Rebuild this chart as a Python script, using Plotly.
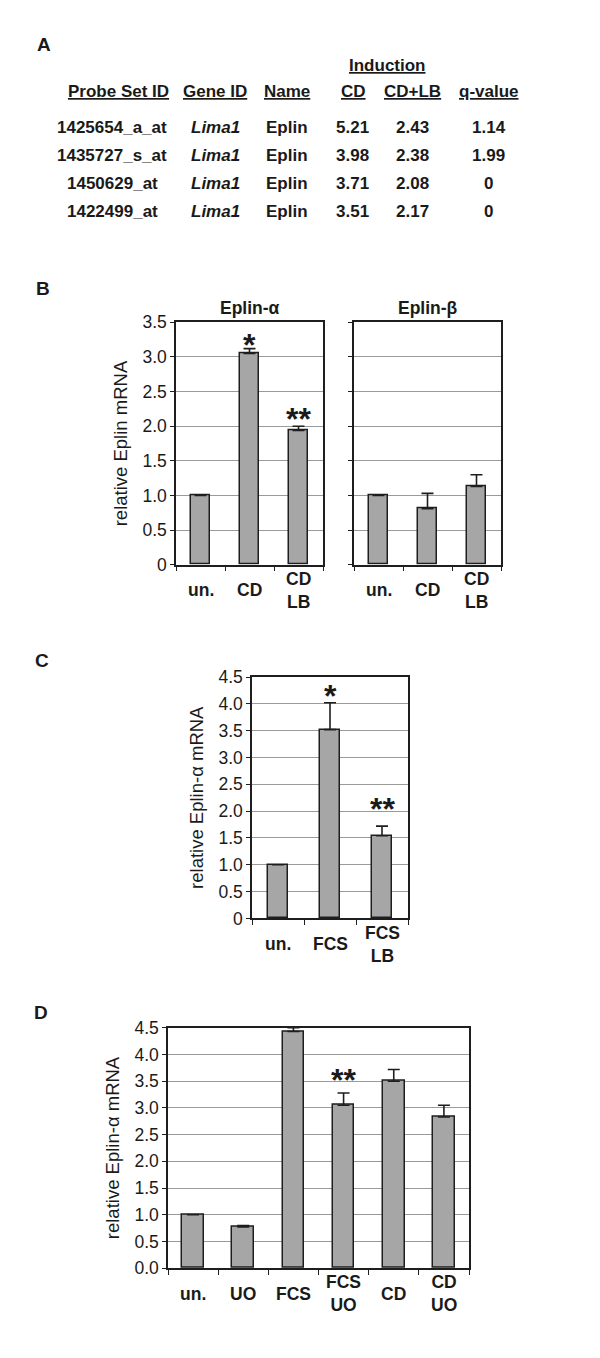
import plotly.graph_objects as go

# ---------------- Data ----------------
# Panel A table
probe_ids = ["1425654_a_at", "1435727_s_at", "1450629_at", "1422499_at"]
gene_ids = ["Lima1", "Lima1", "Lima1", "Lima1"]
gene_names = ["Eplin", "Eplin", "Eplin", "Eplin"]
induction_cd = ["5.21", "3.98", "3.71", "3.51"]
induction_cdlb = ["2.43", "2.38", "2.08", "2.17"]
q_values = ["1.14", "1.99", "0", "0"]
table_headers = ["Probe Set ID", "Gene ID", "Name", "CD", "CD+LB", "q-value"]

# Panel B
b_categories = ["un.", "CD", "CD<br>LB"]
b_alpha_values = [1.0, 3.05, 1.94]
b_alpha_err_top = [1.0, 3.12, 2.0]
b_alpha_sig = ["", "*", "**"]
b_beta_values = [1.0, 0.81, 1.13]
b_beta_err_top = [1.0, 1.03, 1.30]
b_beta_sig = ["", "", ""]
b_ticks = [0, 0.5, 1.0, 1.5, 2.0, 2.5, 3.0, 3.5]
b_ticktext = ["0", "0.5", "1.0", "1.5", "2.0", "2.5", "3.0", "3.5"]

# Panel C
c_categories = ["un.", "FCS", "FCS<br>LB"]
c_values = [1.0, 3.52, 1.54]
c_err_top = [1.0, 4.02, 1.72]
c_sig = ["", "*", "**"]
c_ticks = [0, 0.5, 1.0, 1.5, 2.0, 2.5, 3.0, 3.5, 4.0, 4.5]
c_ticktext = ["0", "0.5", "1.0", "1.5", "2.0", "2.5", "3.0", "3.5", "4.0", "4.5"]

# Panel D
d_categories = ["un.", "UO", "FCS", "FCS<br>UO", "CD", "CD<br>UO"]
d_values = [1.0, 0.77, 4.43, 3.05, 3.50, 2.83]
d_err_top = [1.0, 0.80, 4.50, 3.28, 3.72, 3.05]
d_sig = ["", "", "", "**", "", ""]
d_ticks = [0, 0.5, 1.0, 1.5, 2.0, 2.5, 3.0, 3.5, 4.0, 4.5]
d_ticktext = ["0.0", "0.5", "1.0", "1.5", "2.0", "2.5", "3.0", "3.5", "4.0", "4.5"]

# ---------------- Layout helpers ----------------
W, H = 600, 1358
FONT = "Liberation Sans, Arial, sans-serif"
BAR_FILL = "#a6a6a6"
DARK = "#1e1e1e"
GRID = "#9a9a9a"
STAR_SIZE = 32


def px_x(p):
    return p / W


def px_y(p):
    return 1 - p / H


fig = go.Figure()
annotations = []


def add_panel(idx, cats, vals, errs, sig, bar_w, xdom_px, ydom_px, ymax,
              ticks, ticktext, show_labels, ytitle, title, star_gaps):
    xa = "x" if idx == 1 else f"x{idx}"
    ya = "y" if idx == 1 else f"y{idx}"
    n = len(cats)
    xs = list(range(n))
    plus = [e - v for e, v in zip(errs, vals)]
    fig.add_trace(go.Bar(
        x=xs, y=vals, width=bar_w,
        marker=dict(color=BAR_FILL, line=dict(color=DARK, width=1.5)),
        error_y=dict(type="data", symmetric=False, array=plus,
                     arrayminus=[0] * n, color=DARK, thickness=1.6, width=6),
        xaxis=xa, yaxis=ya, showlegend=False, hoverinfo="skip",
    ))
    key = "" if idx == 1 else str(idx)
    fig.layout["xaxis" + key] = dict(
        domain=[px_x(xdom_px[0]), px_x(xdom_px[1])], anchor=ya,
        range=[-0.5, n - 0.5], tickvals=[i - 0.5 for i in range(n + 1)],
        showticklabels=False, ticks="outside", ticklen=5, tickwidth=1.3,
        tickcolor=DARK, showgrid=False, zeroline=False,
        showline=True, linecolor=DARK, linewidth=1.5, mirror=True, fixedrange=True,
    )
    fig.layout["yaxis" + key] = dict(
        domain=[px_y(ydom_px[1]), px_y(ydom_px[0])], anchor=xa,
        range=[0, ymax], tickvals=ticks, ticktext=ticktext,
        showticklabels=show_labels, ticks="outside", ticklen=4, tickwidth=1.3,
        tickcolor=DARK, showgrid=True, gridcolor=GRID, gridwidth=1,
        zeroline=False, showline=True, linecolor=DARK, linewidth=1.5, mirror=True,
        tickfont=dict(family=FONT, size=17.5, color="#1a1a1a"),
        title=dict(text=ytitle, font=dict(family=FONT, size=18.5, color="#1a1a1a"),
                   standoff=10) if ytitle else None,
        fixedrange=True,
    )
    # category labels (vertically centred like the original)
    for i, c in enumerate(cats):
        annotations.append(dict(
            text=f"<b>{c}</b>", x=i, xref=xa, y=ydom_px[1] + 26, yref="paper",
            showarrow=False, xanchor="center", yanchor="middle",
            font=dict(family=FONT, size=17.5, color="#1a1a1a"),
        ))
    # significance stars
    for i, s in enumerate(sig):
        if s:
            annotations.append(dict(
                text=f"<b>{s}</b>", x=i, xref=xa, y=errs[i], yref=ya,
                showarrow=False, xanchor="center", yanchor="middle",
                yshift=star_gaps[i] - 0.238 * STAR_SIZE,
                font=dict(family=FONT, size=STAR_SIZE, color="#1a1a1a"),
            ))
    if title:
        annotations.append(dict(
            text=f"<b>{title}</b>", x=(xdom_px[0] + xdom_px[1]) / 2, xref="paper",
            y=ydom_px[0] - 15, yref="paper", showarrow=False,
            xanchor="center", yanchor="middle",
            font=dict(family=FONT, size=17.5, color="#1a1a1a"),
        ))


add_panel(1, b_categories, b_alpha_values, b_alpha_err_top, b_alpha_sig, 0.38,
          (176, 323), (317, 563), 3.5, b_ticks, b_ticktext, True,
          "relative Eplin mRNA", "Eplin-α", [0, 11, 15])
add_panel(2, b_categories, b_beta_values, b_beta_err_top, b_beta_sig, 0.38,
          (354, 501), (317, 563), 3.5, b_ticks, b_ticktext, False,
          None, "Eplin-β", [0, 0, 0])
add_panel(3, c_categories, c_values, c_err_top, c_sig, 0.40,
          (252, 408), (677, 922), 4.5, c_ticks, c_ticktext, True,
          "relative Eplin-α mRNA", None, [0, 14, 25])
add_panel(4, d_categories, d_values, d_err_top, d_sig, 0.43,
          (168, 469), (1033, 1277), 4.5, d_ticks, d_ticktext, True,
          "relative Eplin-α mRNA", None, [0, 0, 0, 21, 0, 0])

# convert pixel positions for paper-ref annotations
for a in annotations:
    if a.get("yref") == "paper":
        a["y"] = px_y(a["y"])
    if a.get("xref") == "paper":
        a["x"] = px_x(a["x"])

# Panel letters
for letter, (lx, ly) in {"A": (44, 35), "B": (43, 283), "C": (42, 660), "D": (41, 1017)}.items():
    annotations.append(dict(text=f"<b>{letter}</b>", x=px_x(lx), y=px_y(ly),
                            xref="paper", yref="paper", showarrow=False,
                            xanchor="center", yanchor="middle",
                            font=dict(family=FONT, size=19, color="#1a1a1a")))

# Panel A table
col_x = [118, 215, 287, 353, 412, 489]
data_col_x = [112, 215, 287, 352, 412, 489]
header_y = 83
row_y0, row_dy = 119, 28.4
tfont = dict(family=FONT, size=17, color="#1a1a1a")
annotations.append(dict(text="<b><u>Induction</u></b>", x=px_x(387), y=px_y(56),
                        xref="paper", yref="paper", showarrow=False,
                        xanchor="center", yanchor="middle", font=tfont))
for cx, h in zip(col_x, table_headers):
    annotations.append(dict(text=f"<b><u>{h}</u></b>", x=px_x(cx), y=px_y(header_y),
                            xref="paper", yref="paper", showarrow=False,
                            xanchor="center", yanchor="middle", font=tfont))
for r in range(len(probe_ids)):
    row = [f"<b>{probe_ids[r]}</b>", f"<b><i>{gene_ids[r]}</i></b>",
           f"<b>{gene_names[r]}</b>", f"<b>{induction_cd[r]}</b>",
           f"<b>{induction_cdlb[r]}</b>", f"<b>{q_values[r]}</b>"]
    for cx, t in zip(data_col_x, row):
        annotations.append(dict(text=t, x=px_x(cx), y=px_y(row_y0 + r * row_dy),
                                xref="paper", yref="paper", showarrow=False,
                                xanchor="center", yanchor="middle", font=tfont))

fig.update_layout(
    width=W, height=H, margin=dict(l=0, r=0, t=0, b=0),
    paper_bgcolor="white", plot_bgcolor="white",
    annotations=annotations, bargap=0, showlegend=False,
    font=dict(family=FONT, color="#1a1a1a"),
)

fig.write_html(
    "out.html",
    config={"displayModeBar": False},
    post_script="document.body.style.margin='0';document.body.style.padding='0';"
                "document.documentElement.style.overflow='hidden';",
)
